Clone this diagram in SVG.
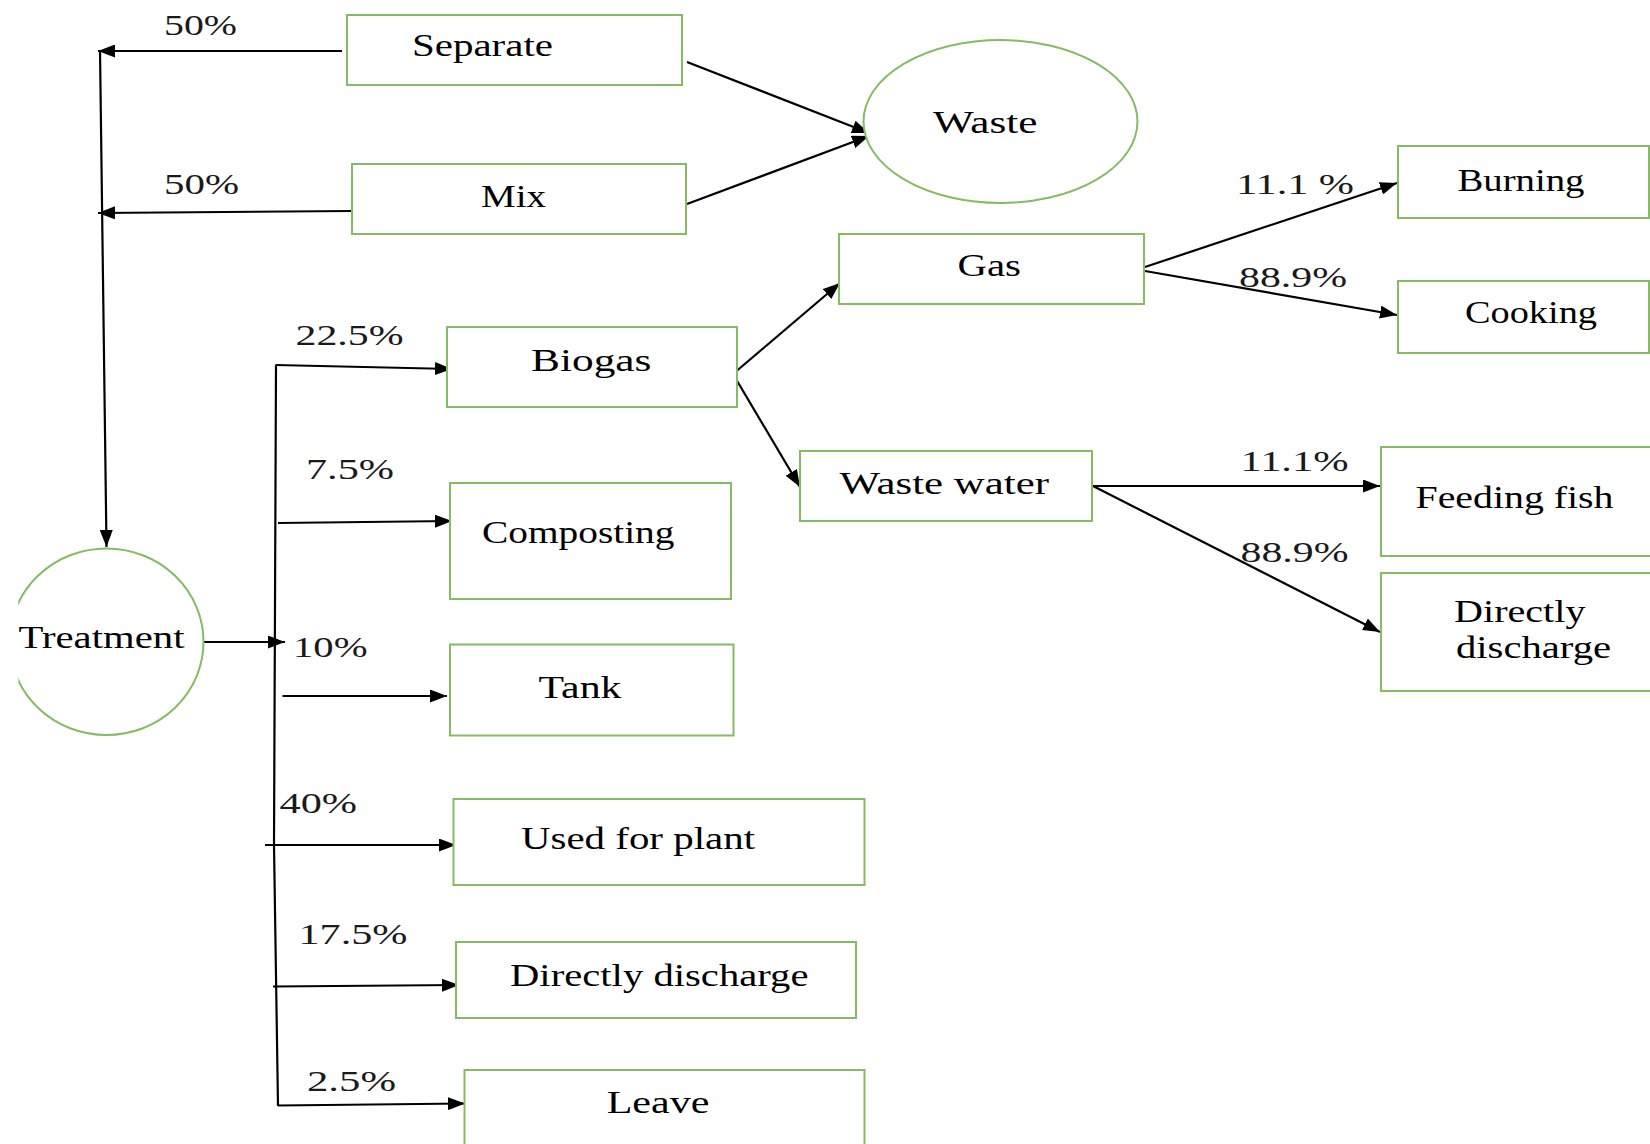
<svg xmlns="http://www.w3.org/2000/svg" width="1650" height="1144" viewBox="0 0 1650 1144">
<style>
  .box{fill:#ffffff;stroke:#86bb63;stroke-width:2}
  .oval{fill:#ffffff;stroke:#86bb63;stroke-width:2}
  .t{font-family:"Liberation Serif","Times New Roman",serif;font-size:31px;fill:#000}
  .p{font-family:"Liberation Serif","Times New Roman",serif;font-size:30px;fill:#1a1a1a}
  .c{fill:none;stroke:#000;stroke-width:2.2}
  .a{fill:none;stroke:#000;stroke-width:2.2;marker-end:url(#arr)}
</style>
<defs>
  <marker id="arr" markerUnits="userSpaceOnUse" markerWidth="18" markerHeight="13" refX="17" refY="6.5" orient="auto">
    <path d="M0,0 L17,6.5 L0,13 z" fill="#000"/>
  </marker>
  <clipPath id="clipL"><rect x="18.3" y="0" width="400" height="1144"/></clipPath>
</defs>
<rect x="0" y="0" width="1650" height="1144" fill="#ffffff"/>

<g id="connectors">
  <line class="a" x1="342" y1="51" x2="98" y2="51"/>
  <line class="a" x1="352" y1="211" x2="98" y2="213"/>
  <line class="a" x1="100" y1="50" x2="106.5" y2="547"/>
  <line class="a" x1="687" y1="62" x2="869" y2="133"/>
  <line class="a" x1="687" y1="204" x2="869" y2="136"/>
  <line class="a" x1="733" y1="374" x2="840" y2="283"/>
  <line class="a" x1="733" y1="374" x2="800" y2="487"/>
  <line class="a" x1="1145" y1="267" x2="1397" y2="183"/>
  <line class="a" x1="1145" y1="271" x2="1397" y2="315"/>
  <line class="a" x1="1093" y1="486" x2="1380" y2="486"/>
  <line class="a" x1="1093" y1="486" x2="1380" y2="632"/>
  <line class="a" x1="204" y1="642" x2="285" y2="642"/>
  <polyline class="c" points="276,365 274,845 278,1106"/>
  <line class="a" x1="275.5" y1="365" x2="452" y2="369"/>
  <line class="a" x1="278" y1="523" x2="452" y2="521"/>
  <line class="a" x1="282.5" y1="696" x2="447" y2="696"/>
  <line class="a" x1="265" y1="845" x2="456" y2="845"/>
  <line class="a" x1="273" y1="986.5" x2="459" y2="985"/>
  <line class="a" x1="278" y1="1105.5" x2="465" y2="1103.5"/>
</g>

<g id="labels">
  <text class="p" x="164" y="35" textLength="73" lengthAdjust="spacingAndGlyphs">50%</text>
  <text class="p" x="164" y="194" textLength="75" lengthAdjust="spacingAndGlyphs">50%</text>
  <text class="p" x="1236" y="194" textLength="118" lengthAdjust="spacingAndGlyphs">11.1 %</text>
  <text class="p" x="1239" y="287" textLength="108" lengthAdjust="spacingAndGlyphs">88.9%</text>
  <text class="p" x="1240.5" y="470.5" textLength="108" lengthAdjust="spacingAndGlyphs">11.1%</text>
  <text class="p" x="1240.5" y="561.5" textLength="108" lengthAdjust="spacingAndGlyphs">88.9%</text>
  <text class="p" x="295.5" y="345" textLength="108" lengthAdjust="spacingAndGlyphs">22.5%</text>
  <text class="p" x="306" y="479" textLength="88" lengthAdjust="spacingAndGlyphs">7.5%</text>
  <text class="p" x="293" y="657" textLength="74.5" lengthAdjust="spacingAndGlyphs">10%</text>
  <text class="p" x="279.5" y="812.5" textLength="77.5" lengthAdjust="spacingAndGlyphs">40%</text>
  <text class="p" x="298.5" y="944" textLength="109" lengthAdjust="spacingAndGlyphs">17.5%</text>
  <text class="p" x="307" y="1090.5" textLength="89" lengthAdjust="spacingAndGlyphs">2.5%</text>
</g>

<g id="node-separate">
  <rect class="box" x="347" y="15" width="335" height="70"/>
  <text class="t" x="412" y="56" textLength="141" lengthAdjust="spacingAndGlyphs">Separate</text>
</g>
<g id="node-mix">
  <rect class="box" x="352" y="164" width="334" height="70"/>
  <text class="t" x="481" y="207" textLength="65" lengthAdjust="spacingAndGlyphs">Mix</text>
</g>
<g id="node-waste">
  <ellipse class="oval" cx="1000.5" cy="121.5" rx="137" ry="81.5"/>
  <text class="t" x="933" y="132.5" textLength="104.5" lengthAdjust="spacingAndGlyphs">Waste</text>
</g>
<g id="node-gas">
  <rect class="box" x="839" y="234" width="305" height="70"/>
  <text class="t" x="957.5" y="276" textLength="63.5" lengthAdjust="spacingAndGlyphs">Gas</text>
</g>
<g id="node-burning">
  <rect class="box" x="1398" y="146" width="251" height="72"/>
  <text class="t" x="1457.5" y="190.5" textLength="127" lengthAdjust="spacingAndGlyphs">Burning</text>
</g>
<g id="node-cooking">
  <rect class="box" x="1398" y="281" width="251" height="72"/>
  <text class="t" x="1465" y="323" textLength="132" lengthAdjust="spacingAndGlyphs">Cooking</text>
</g>
<g id="node-biogas">
  <rect class="box" x="447" y="327" width="290" height="80"/>
  <text class="t" x="531" y="370.5" textLength="120.5" lengthAdjust="spacingAndGlyphs">Biogas</text>
</g>
<g id="node-wastewater">
  <rect class="box" x="800" y="451" width="292" height="70"/>
  <text class="t" x="839.5" y="493.5" textLength="209.5" lengthAdjust="spacingAndGlyphs">Waste water</text>
</g>
<g id="node-feedingfish">
  <rect class="box" x="1381" y="447" width="280" height="109"/>
  <text class="t" x="1415.5" y="507.5" textLength="198" lengthAdjust="spacingAndGlyphs">Feeding fish</text>
</g>
<g id="node-directly-right">
  <rect class="box" x="1381" y="573" width="280" height="118"/>
  <text class="t" x="1454" y="621.5" textLength="131.5" lengthAdjust="spacingAndGlyphs">Directly</text>
  <text class="t" x="1456" y="657.5" textLength="155" lengthAdjust="spacingAndGlyphs">discharge</text>
</g>
<g id="node-treatment">
  <ellipse class="oval" cx="106.5" cy="641.7" rx="97" ry="93.3" clip-path="url(#clipL)"/>
  <text class="t" x="18.5" y="648.3" textLength="166" lengthAdjust="spacingAndGlyphs">Treatment</text>
</g>
<g id="node-composting">
  <rect class="box" x="450" y="483" width="281" height="116"/>
  <text class="t" x="482" y="543.3" textLength="192.5" lengthAdjust="spacingAndGlyphs">Composting</text>
</g>
<g id="node-tank">
  <rect class="box" x="450" y="644.5" width="283.5" height="91"/>
  <text class="t" x="538.5" y="698.3" textLength="83" lengthAdjust="spacingAndGlyphs">Tank</text>
</g>
<g id="node-usedforplant">
  <rect class="box" x="453.5" y="799" width="411" height="86"/>
  <text class="t" x="521" y="849.3" textLength="234" lengthAdjust="spacingAndGlyphs">Used for plant</text>
</g>
<g id="node-directly-left">
  <rect class="box" x="456" y="942" width="400" height="76"/>
  <text class="t" x="510" y="986" textLength="298.5" lengthAdjust="spacingAndGlyphs">Directly discharge</text>
</g>
<g id="node-leave">
  <rect class="box" x="464.5" y="1070" width="400" height="84"/>
  <text class="t" x="606.7" y="1112.7" textLength="102.6" lengthAdjust="spacingAndGlyphs">Leave</text>
</g>
</svg>
